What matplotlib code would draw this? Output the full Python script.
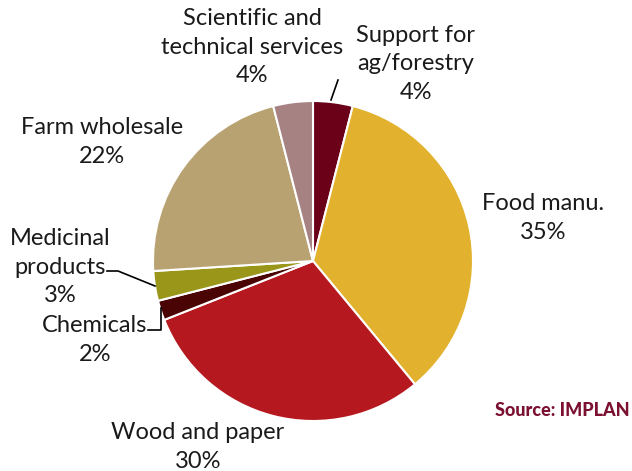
import matplotlib
matplotlib.use("Agg")
import matplotlib.pyplot as plt

# data
labels = ["Support for\nag/forestry", "Food manu.", "Wood and paper", "Chemicals",
          "Medicinal\nproducts", "Farm wholesale", "Scientific and\ntechnical services"]
shares = [4, 35, 30, 2, 3, 22, 4]
colors = ["#6B0019", "#E2B22E", "#B5181F", "#4A0404", "#9A961A", "#B9A272", "#A68283"]

plt.rcParams['font.family'] = ['Lato', 'DejaVu Sans']

W, H = 632, 471
fig = plt.figure(figsize=(W / 100, H / 100), dpi=100)
ax = fig.add_axes([0, 0, 1, 1])

cx, cy, r = 313, H - 261, 160
ax.pie(shares, colors=colors, startangle=90, counterclock=False,
       center=(cx, cy), radius=r, frame=True,
       wedgeprops=dict(edgecolor='white', linewidth=1.5))
ax.set_xlim(0, W)
ax.set_ylim(0, H)
ax.set_aspect('equal')
ax.axis('off')

fs = 17
lab_pos = [(416, 64), (543, 218), (198, 447), (95, 340), (60, 267), (102, 142), (252, 47)]
for lab, s, (px, py) in zip(labels, shares, lab_pos):
    ax.text(px, H - py, f"{lab}\n{s}%", ha='center', va='center', fontsize=fs,
            linespacing=1.42, color='#1a1a1a')

# leader lines
def line(pts):
    ax.plot([p[0] for p in pts], [H - p[1] for p in pts], color='black', lw=1.2)

line([(338, 80), (331, 100)])
line([(107, 271), (118, 271), (155, 286)])
line([(148, 330), (161, 330), (161, 308)])

ax.text(630, H - 410, "Source: IMPLAN", ha='right', va='center', fontsize=13,
        fontweight='black', color='#7B1030')

fig.savefig("out.png", dpi=100)
